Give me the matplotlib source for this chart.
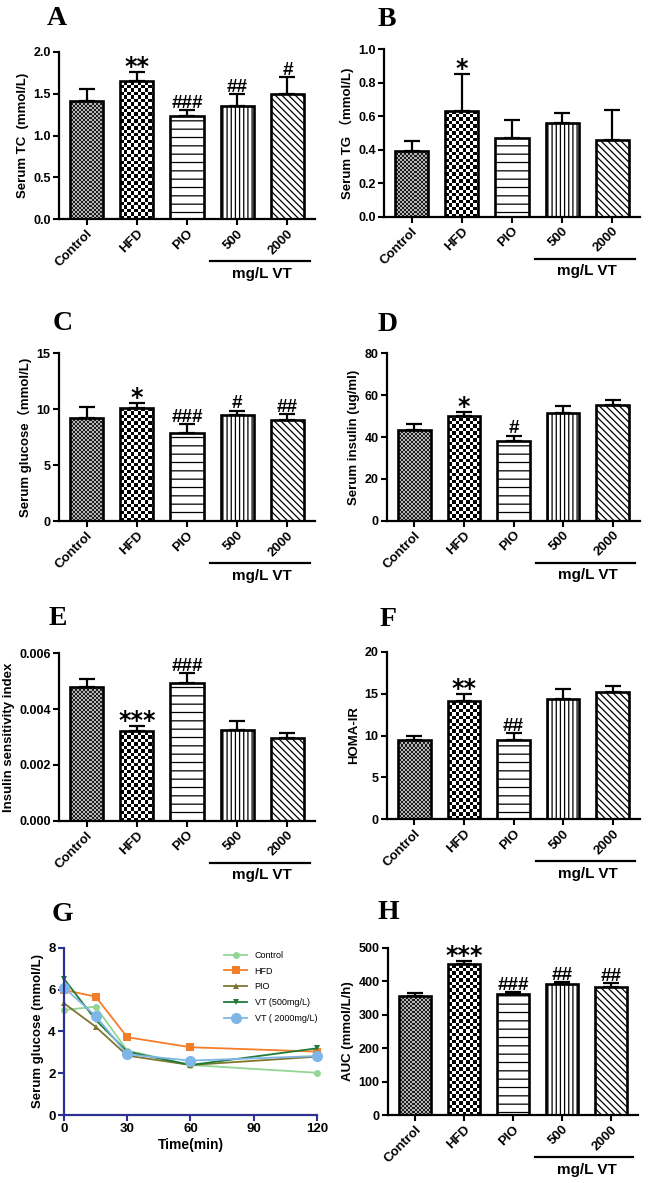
import numpy as np
import matplotlib
matplotlib.use('Agg')
import matplotlib.pyplot as plt
from matplotlib.colors import ListedColormap
from matplotlib.transforms import blended_transform_factory

# ---------------- data ----------------
groups = ['Control', 'HFD', 'PIO', '500', '2000']

tc_mean = [1.42, 1.65, 1.24, 1.35, 1.50]
tc_err = [0.14, 0.11, 0.07, 0.15, 0.20]
tc_sig = ['', '**', '###', '##', '#']

tg_mean = [0.39, 0.63, 0.47, 0.56, 0.46]
tg_err = [0.06, 0.22, 0.11, 0.06, 0.18]
tg_sig = ['', '*', '', '', '']

glu_mean = [9.18, 10.08, 7.90, 9.48, 9.03]
glu_err = [1.00, 0.50, 0.78, 0.40, 0.50]
glu_sig = ['', '*', '###', '#', '##']

ins_mean = [43.4, 50.2, 38.1, 51.4, 55.3]
ins_err = [2.7, 1.6, 2.6, 3.6, 2.4]
ins_sig = ['', '*', '#', '', '']

isi_mean = [0.00480, 0.00322, 0.00492, 0.00325, 0.00297]
isi_err = [0.00027, 0.00018, 0.00036, 0.00032, 0.00016]
isi_sig = ['', '***', '###', '', '']

homa_mean = [9.46, 14.10, 9.46, 14.40, 15.15]
homa_err = [0.52, 0.85, 0.80, 1.10, 0.75]
homa_sig = ['', '**', '##', '', '']

auc_mean = [356.6, 450.4, 361.6, 390.6, 383.5]
auc_err = [7.0, 10.6, 7.0, 7.8, 11.9]
auc_sig = ['', '***', '###', '##', '##']

ogtt_time = [0, 15, 30, 60, 120]
ogtt_labels = ['Control', 'HFD', 'PIO', 'VT (500mg/L)', 'VT ( 2000mg/L)']
ogtt_control = [5.02, 5.18, 3.08, 2.39, 2.02]
ogtt_hfd = [5.98, 5.66, 3.72, 3.24, 3.03]
ogtt_pio = [5.34, 4.22, 2.84, 2.39, 2.79]
ogtt_vt500 = [6.51, 4.55, 3.03, 2.39, 3.19]
ogtt_vt2000 = [6.09, 4.74, 2.90, 2.60, 2.82]

# ---------------- style ----------------
plt.rcParams['font.family'] = ['Liberation Sans', 'Noto Sans CJK SC', 'DejaVu Sans']
plt.rcParams['font.weight'] = 'bold'
plt.rcParams['axes.labelweight'] = 'bold'
plt.rcParams['hatch.linewidth'] = 0.9

W, H = 650, 1183
fig = plt.figure(figsize=(W / 100, H / 100), dpi=100)


def rect(l, r, t, b):
    return [l / W, (H - b) / H, (r - l) / W, (b - t) / H]


def checker(ax, bar, cell_px, c1, c2):
    pos = ax.get_position()
    wpx = pos.width * W
    hpx = pos.height * H
    nx = int(round(wpx / cell_px))
    ny = int(round(hpx / cell_px))
    arr = np.add.outer(np.arange(ny), np.arange(nx)) % 2
    im = ax.imshow(arr, cmap=ListedColormap([c1, c2]), extent=(0, 1, 0, 1),
                   transform=ax.transAxes, interpolation='nearest',
                   aspect='auto', zorder=1.5)
    im.set_clip_path(bar)


def style_axes(ax, color='black'):
    for s in ['top', 'right']:
        ax.spines[s].set_visible(False)
    for s in ['left', 'bottom']:
        ax.spines[s].set_linewidth(1.6)
        ax.spines[s].set_color(color)
    ax.tick_params(direction='out', length=4, width=1.5, labelsize=9,
                   color=color, pad=2)


def bar_panel(rc, mean, err, sig, ylim, yticks, fmt, ylabel):
    ax = fig.add_axes(rect(*rc))
    x = np.arange(len(groups))
    w = 0.66
    bars = ax.bar(x, mean, width=w, color='white', edgecolor='black',
                  linewidth=0, zorder=1)
    bars[2].set_hatch('--')
    bars[3].set_hatch('||||')
    bars[4].set_hatch('\\\\\\\\\\')
    checker(ax, bars[0], 2.0, '#1e1e1e', '#b4b4b4')
    checker(ax, bars[1], 3.4, '#000000', '#ffffff')
    ax.bar(x, mean, width=w, fill=False, edgecolor='black', linewidth=1.9,
           zorder=3)
    ax.errorbar(x, mean, yerr=[np.zeros(len(err)), err], fmt='none',
                ecolor='black', elinewidth=1.6, capsize=5.5, capthick=1.6,
                zorder=4)
    for i, s in enumerate(sig):
        if not s:
            continue
        top = mean[i] + err[i]
        if s.startswith('*'):
            ax.annotate(s, xy=(i, top), xytext=(0, -1.5),
                        textcoords='offset points', ha='center',
                        va='baseline', fontsize=17, fontweight='bold',
                        family='DejaVu Sans', annotation_clip=False)
        else:
            ax.annotate(s, xy=(i, top), xytext=(0, 1.5),
                        textcoords='offset points', ha='center',
                        va='baseline', fontsize=13.5, fontweight='bold',
                        annotation_clip=False)
    style_axes(ax)
    ax.set_xlim(-0.55, 4.55)
    ax.set_ylim(*ylim)
    ax.set_yticks(yticks)
    ax.set_yticklabels([fmt.format(v) for v in yticks])
    ax.set_xticks(x)
    ax.set_xticklabels(groups, rotation=45, ha='right', va='top',
                       rotation_mode='anchor', fontsize=9.5)
    ax.set_ylabel(ylabel, fontsize=9.5, labelpad=3)
    tr = blended_transform_factory(ax.transData, ax.transAxes)
    ax.plot([2.45, 4.45], [-0.25, -0.25], transform=tr, clip_on=False,
            color='black', lw=1.6)
    ax.text(3.5, -0.285, 'mg/L VT', transform=tr, ha='center', va='top',
            fontsize=11, fontweight='bold')
    return ax


bar_panel((59, 315, 52, 219.3), tc_mean, tc_err, tc_sig, (0, 2.0),
          [0.0, 0.5, 1.0, 1.5, 2.0], '{:.1f}', 'Serum TC  (mmol/L)')
bar_panel((384, 640, 49.3, 216.7), tg_mean, tg_err, tg_sig, (0, 1.0),
          [0.0, 0.2, 0.4, 0.6, 0.8, 1.0], '{:.1f}', 'Serum TG （mmol/L)')
bar_panel((59, 315, 353.3, 521), glu_mean, glu_err, glu_sig, (0, 15),
          [0, 5, 10, 15], '{:d}', 'Serum glucose（mmol/L)')
bar_panel((387, 640, 353.3, 520.7), ins_mean, ins_err, ins_sig, (0, 80),
          [0, 20, 40, 60, 80], '{:d}', 'Serum insulin (ug/ml)')
bar_panel((59, 315, 653.3, 820.7), isi_mean, isi_err, isi_sig, (0, 0.006),
          [0.0, 0.002, 0.004, 0.006], '{:.3f}', 'Insulin sensitivity index')
bar_panel((387, 640, 651.7, 819.3), homa_mean, homa_err, homa_sig, (0, 20),
          [0, 5, 10, 15, 20], '{:d}', 'HOMA-IR')
bar_panel((388, 638, 947.7, 1115), auc_mean, auc_err, auc_sig, (0, 500),
          [0, 100, 200, 300, 400, 500], '{:d}', 'AUC (mmol/L/h)')

# ---------------- panel G ----------------
axg = fig.add_axes(rect(64, 317, 947.7, 1115))
series = [ogtt_control, ogtt_hfd, ogtt_pio, ogtt_vt500, ogtt_vt2000]
colors = ['#93d596', '#f47d2a', '#7d7632', '#1f7a37', '#7fb6e8']
markers = ['o', 's', '^', 'v', 'o']
msizes = [5, 5.5, 5, 5, 8]
for vals, lab, c, m, ms in zip(series, ogtt_labels, colors, markers, msizes):
    axg.plot(ogtt_time, vals, color=c, marker=m, markersize=ms, lw=1.3,
             label=lab, clip_on=False, markeredgewidth=0)
style_axes(axg, color='#2e3192')
axg.tick_params(labelcolor='black', labelsize=9.5)
axg.set_xlim(0, 120)
axg.set_ylim(0, 8)
axg.set_xticks([0, 30, 60, 90, 120])
axg.set_yticks([0, 2, 4, 6, 8])
axg.set_xlabel('Time(min)', fontsize=10, labelpad=2)
axg.set_ylabel('Serum glucose (mmol/L)', fontsize=9.5, labelpad=3)
leg = axg.legend(loc='upper left', bbox_to_anchor=(0.6, 1.03), frameon=False,
                 prop={'family': 'Liberation Sans', 'weight': 'normal',
                       'size': 6.5},
                 handlelength=2.6, labelspacing=0.75, handletextpad=0.8)

# ---------------- panel letters ----------------
letters = [('A', 47, 25), ('B', 378, 26), ('C', 53, 330), ('D', 378, 331),
           ('E', 49, 625), ('F', 380, 626), ('G', 52, 921), ('H', 378, 919)]
for t, lx, ly in letters:
    fig.text(lx / W, 1 - ly / H, t, fontsize=20, fontweight='bold',
             family='Liberation Serif', ha='left', va='baseline')

fig.savefig('out.png', dpi=100, facecolor='white')
